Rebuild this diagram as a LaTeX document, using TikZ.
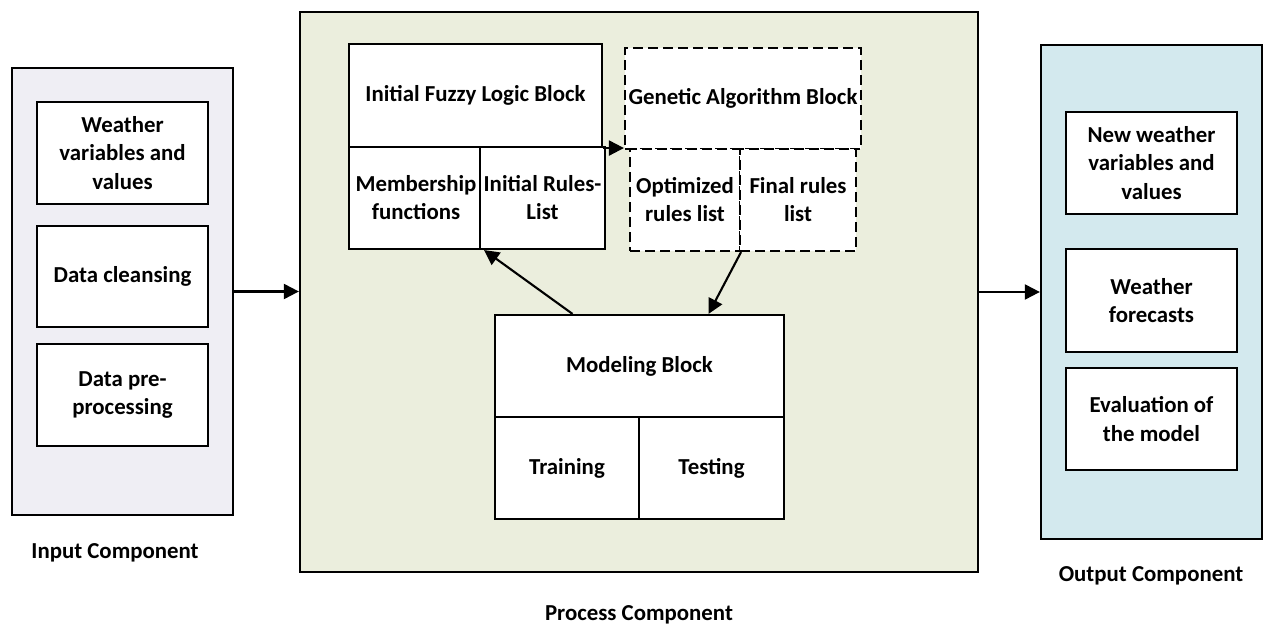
\documentclass[tikz,border=0pt]{standalone}
\usepackage{fontspec}
\setmainfont{Carlito}
\usepackage{tikz}
\usetikzlibrary{positioning, arrows.meta, calc}
\usepackage{xcolor}
\definecolor{inlav}{HTML}{EFEEF4}
\definecolor{procgreen}{HTML}{EBEEDD}
\definecolor{outblue}{HTML}{D3E9EE}

\begin{document}
\begin{tikzpicture}[
          comp/.style={draw, line width=1.3pt, inner sep=0pt},
          box/.style={draw, line width=1.2pt, fill=white, inner sep=2pt, align=center, font=\bfseries\fontsize{13}{16}\selectfont},
          dbox/.style={box, dash pattern=on 0.2cm off 0.1cm},
          lbl/.style={font=\bfseries\fontsize{13}{16}\selectfont},
          arr/.style={-{Triangle[length=0.3cm, width=0.3cm]}, line width=1.2pt}]
        \useasboundingbox (0,0) rectangle (25.28,12.56);
        % components
        \node[comp, fill=inlav, minimum width=4.42cm, minimum height=8.94cm] (inp) at (2.45,6.73) {};
        \node[comp, fill=procgreen, minimum width=13.56cm, minimum height=11.2cm] (proc) at (12.78,6.72) {};
        \node[comp, fill=outblue, minimum width=4.42cm, minimum height=9.88cm] (outp) at (23.03,6.72) {};
        \node[lbl] (inplbl) at (2.30,1.50) {Input Component};
        \node[lbl] (proclbl) at (12.78,0.26) {Process Component};
        \node[lbl] (outplbl) at (23.02,1.04) {Output Component};
        % input steps
        \node[box, minimum width=3.42cm, minimum height=2.04cm] (wvar) at (2.45,9.50) {Weather\\variables and\\values};
        \node[box, minimum width=3.42cm, minimum height=2.02cm] (clean) at (2.45,7.03) {Data cleansing};
        \node[box, minimum width=3.42cm, minimum height=2.04cm] (prep) at (2.45,4.66) {Data pre-\\processing};
        % fuzzy logic block
        \node[box, minimum width=5.06cm, minimum height=2.06cm] (fzhead) at (9.51,10.65) {Initial Fuzzy Logic Block};
        \node[box, minimum width=2.68cm, minimum height=2.04cm] (fzmf) at (8.32,8.60) {Membership\\functions};
        \node[box, minimum width=2.38cm, minimum height=2.04cm] (fzrules) at (10.85,8.60) {Initial Rules-\\List};
        % genetic algorithm block
        \node[dbox, minimum width=4.52cm, minimum height=2.02cm] (gahead) at (14.86,10.59) {Genetic Algorithm Block};
        \node[dbox, minimum width=2.20cm, minimum height=2.04cm] (gaopt) at (13.70,8.56) {Optimized\\rules list};
        \node[dbox, minimum width=2.32cm, minimum height=2.04cm] (gafin) at (15.96,8.56) {Final rules\\list};
        % modeling block
        \node[box, minimum width=5.78cm, minimum height=2.04cm] (mdhead) at (12.79,5.24) {Modeling Block};
        \node[box, minimum width=2.88cm, minimum height=2.04cm] (mdtrain) at (11.34,3.20) {Training};
        \node[box, minimum width=2.90cm, minimum height=2.04cm] (mdtest) at (14.23,3.20) {Testing};
        % output steps
        \node[box, minimum width=3.42cm, minimum height=2.04cm] (newvar) at (23.03,9.30) {New weather\\variables and\\values};
        \node[box, minimum width=3.42cm, minimum height=2.06cm] (fcast) at (23.03,6.55) {Weather\\forecasts};
        \node[box, minimum width=3.42cm, minimum height=2.04cm] (evalm) at (23.03,4.18) {Evaluation of\\the model};
        % connectors
        \draw[arr] (inp.east) -- (inp.east -| proc.west);
        \draw[arr] (proc.east) -- (proc.east -| outp.west);
        \draw[arr] (fzhead.south east) -- (fzhead.south east -| gahead.west);
        \draw[arr] ($(mdhead.north west)!0.27!(mdhead.north east)$) -- (fzmf.south east);
        \draw[arr] (gaopt.south east) -- ($(mdhead.north west)!0.737!(mdhead.north east)$);
      \end{tikzpicture}
\end{document}
